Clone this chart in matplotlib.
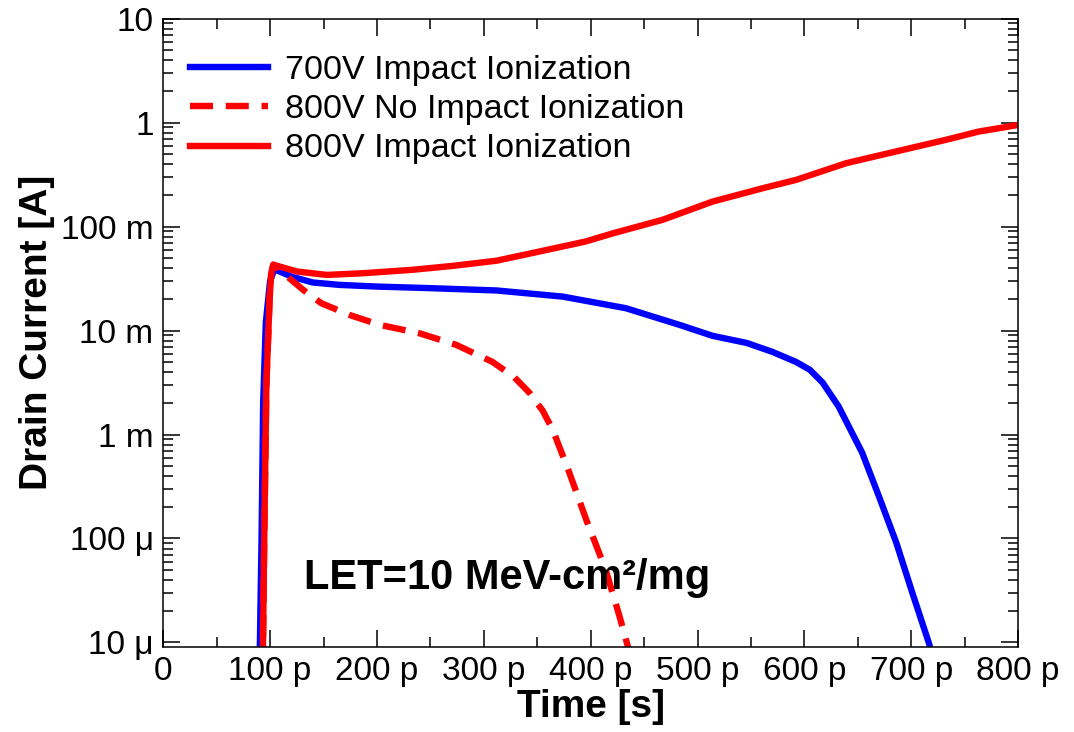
import matplotlib
matplotlib.use("Agg")
import matplotlib.pyplot as plt
from matplotlib.ticker import FixedLocator, FixedFormatter, LogLocator, NullFormatter

plt.rcParams['font.family'] = ['Liberation Sans', 'DejaVu Sans']

# time in ps, drain current in A
t_700 = [90, 92, 93.5, 96, 100, 104, 120, 140, 165, 200, 249, 312, 374, 433,
         483, 514, 546, 570, 592, 605, 617, 632, 654, 670, 686, 701, 717, 722]
i_700 = [5e-6, 1e-4, 2e-3, 1.2e-2, 0.03, 0.039, 0.033, 0.029, 0.0275, 0.0265, 0.0256,
         0.0243, 0.0212, 0.0164, 0.01135, 0.0089, 0.0076, 0.00624, 0.0050, 0.0042,
         0.00316, 0.00186, 6.7e-4, 2.5e-4, 9.1e-5, 3.0e-5, 9.5e-6, 5e-6]

t_800_noii = [93, 94.5, 96.5, 99.5, 101, 103, 110, 118, 131, 148, 174.5, 202.5, 240,
              274, 308, 328, 343, 355, 364.5, 380, 396, 414, 427, 435, 437]
i_800_noii = [5e-6, 1e-4, 3e-3, 0.02, 0.035, 0.043, 0.038, 0.0319, 0.0246, 0.0183,
              0.0141, 0.01135, 0.0094, 0.0073, 0.0050, 0.0036, 0.0025, 0.0017,
              0.00111, 4.3e-4, 1.5e-4, 5.0e-5, 1.78e-5, 9e-6, 5e-6]

t_800_ii = [93, 94.5, 96.5, 99.5, 101, 103, 110, 125, 153, 187, 233, 270, 312, 350,
            395, 421, 467, 514, 561, 592, 639, 685, 732, 763, 800]
i_800_ii = [5e-6, 1e-4, 3e-3, 0.02, 0.035, 0.043, 0.041, 0.037, 0.0343, 0.0356,
            0.0384, 0.0418, 0.047, 0.057, 0.0718, 0.0863, 0.116, 0.174, 0.234, 0.281,
            0.407, 0.526, 0.682, 0.82, 0.95]

x_ticks = [0, 100, 200, 300, 400, 500, 600, 700, 800]
x_labels = ["0", "100 p", "200 p", "300 p", "400 p", "500 p", "600 p", "700 p", "800 p"]
y_ticks = [1e-5, 1e-4, 1e-3, 1e-2, 1e-1, 1, 10]
y_labels = ["10 μ", "100 μ", "1 m", "10 m", "100 m", "1", "10"]

fig = plt.figure(figsize=(10.74, 7.32), dpi=100)
ax = fig.add_axes([0.152, 0.1165, 0.796, 0.858])

lw = 4.6
ax.plot(t_700, i_700, color="#0000ff", lw=lw, label="700V Impact Ionization")
ax.plot(t_800_noii, i_800_noii, color="#ff0000", lw=lw, dashes=(3.6, 2.0),
        label="800V No Impact Ionization")
ax.plot(t_800_ii, i_800_ii, color="#ff0000", lw=lw, label="800V Impact Ionization")

ax.set_yscale("log")
ax.set_xlim(0, 800)
ax.set_ylim(9.1e-6, 10)

ax.xaxis.set_major_locator(FixedLocator(x_ticks))
ax.xaxis.set_major_formatter(FixedFormatter(x_labels))
ax.xaxis.set_minor_locator(FixedLocator([50 + 100 * k for k in range(8)]))
ax.yaxis.set_major_locator(FixedLocator(y_ticks))
ax.yaxis.set_major_formatter(FixedFormatter(y_labels))
ax.yaxis.set_minor_locator(LogLocator(base=10, subs=range(2, 10), numticks=20))
ax.yaxis.set_minor_formatter(NullFormatter())

ax.tick_params(which="both", direction="in", top=True, right=True, width=1.1,
               labelsize=24, pad=7)
ax.tick_params(which="major", length=12)
ax.tick_params(which="minor", length=7)
for s in ax.spines.values():
    s.set_linewidth(1.1)

ax.set_xlabel("Time [s]", fontsize=28, fontweight="bold", labelpad=1)
ax.set_ylabel("Drain Current [A]", fontsize=28, fontweight="bold", labelpad=4)

ax.legend(loc="upper left", bbox_to_anchor=(0.031, 0.942), frameon=False,
          fontsize=24.5, handlelength=2.3, handletextpad=0.5, labelspacing=0.24,
          borderpad=0, borderaxespad=0)

ax.text(132, 4.2e-5, "LET=10 MeV-cm²/mg", fontsize=30,
        fontweight="bold", ha="left", va="center")

fig.savefig("out.png", dpi=100)
